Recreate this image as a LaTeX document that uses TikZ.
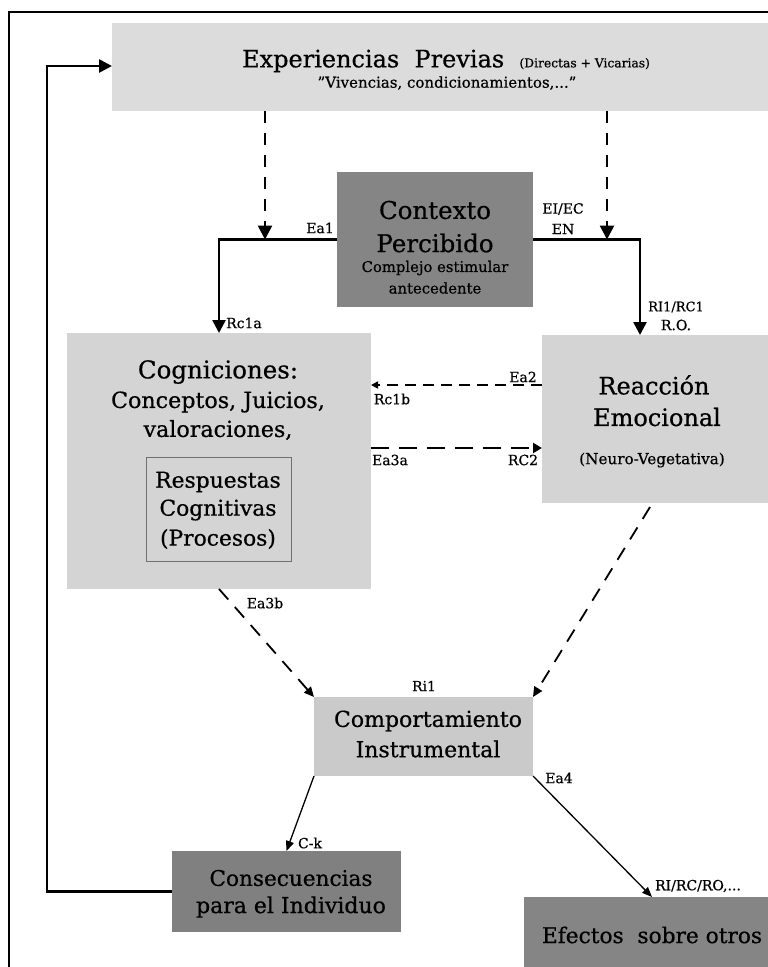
\documentclass[tikz,border=0pt]{standalone}
\usepackage{fontspec}
\setmainfont{DejaVu Serif}[FakeBold=0.6]
\usetikzlibrary{arrows.meta,calc}
\definecolor{cExp}{HTML}{DCDCDC}
\definecolor{cCtx}{HTML}{858585}
\definecolor{cCog}{HTML}{D4D4D4}
\definecolor{cComp}{HTML}{CACACA}
\definecolor{cDark}{HTML}{808080}
\definecolor{cInner}{HTML}{707070}
\newcommand{\fs}[1]{\fontsize{#1}{#1}\selectfont}
\tikzset{
  boxnode/.style={inner sep=0pt, outer sep=0pt, draw=none},
  txt/.style={inner sep=0pt, anchor=center, align=center},
  lbl/.style={inner sep=0pt, anchor=center, font=\fs{14}},
  thickarrow/.style={line width=2.6pt, -{Triangle[length=13pt,width=13pt]}},
  bigdash/.style={line width=2.6pt, dash pattern=on 12pt off 10pt, -{Triangle[length=14pt,width=14pt]}},
  middash/.style={line width=2.2pt, dash pattern=on 18pt off 10pt, -{Triangle[length=9pt,width=10pt]}},
  smalldash/.style={line width=1.6pt, dash pattern=on 11pt off 7pt, -{Triangle[length=7pt,width=7pt]}},
  diagdash/.style={line width=1.8pt, dash pattern=on 14pt off 10pt, -{Triangle[length=10pt,width=9pt]}},
  thinarrow/.style={line width=1.3pt, -{Triangle[length=10pt,width=8pt]}},
}
\begin{document}
\begin{tikzpicture}[x=1pt,y=-1pt]
\useasboundingbox (0,0) rectangle (768,967);
\clip (0,0) rectangle (768,967);
\fill[white] (0,0) rectangle (768,967);
% frame
\draw[line width=1.6pt] (9,990) -- (9,12) -- (790,12);

% boxes
\node[boxnode, fill=cExp, minimum width=658pt, minimum height=88pt] (exp) at (441,67) {};
\node[boxnode, fill=cCtx, minimum width=196pt, minimum height=135pt] (ctx) at (435,239.5) {};
\node[boxnode, fill=cCog, minimum width=304pt, minimum height=256pt] (cog) at (219,461) {};
\node[boxnode, draw=cInner, line width=0.8pt, minimum width=145pt, minimum height=104pt] (inner) at (218.5,509) {};
\node[boxnode, fill=cCog, minimum width=236pt, minimum height=168pt] (rea) at (660,419) {};
\node[boxnode, fill=cComp, minimum width=219pt, minimum height=79pt] (comp) at (423.5,736.5) {};
\node[boxnode, fill=cDark, minimum width=229pt, minimum height=81pt] (cons) at (286.5,891.5) {};
\node[boxnode, fill=cCtx, minimum width=256pt, minimum height=84pt] (efe) at (652,939) {};

% texts
\node[txt] (t1) at (446,61) {\fs{24}Experiencias\ \ Previas\ \ \fs{12.3}(Directas + Vicarias)};
\node[txt, font=\fs{15}] (t2) at (447,83) {\symbol{34}Vivencias, condicionamientos,...\symbol{34}};
\node[txt, font=\fs{24.5}] (c1) at (435,210) {Contexto};
\node[txt, font=\fs{24.5}] (c2) at (435,243) {Percibido};
\node[txt, font=\fs{14.8}] (c3) at (435,268) {Complejo estimular};
\node[txt, font=\fs{14.8}] (c4) at (435,288) {antecedente};
\node[txt, font=\fs{24.5}] (g1) at (218,372) {Cogniciones:};
\node[txt, font=\fs{22.2}] (g2) at (218,402) {Conceptos, Juicios,};
\node[txt, font=\fs{22.2}] (g3) at (218,430) {valoraciones,};
\node[txt, font=\fs{21.8}] (r1) at (218,482) {Respuestas};
\node[txt, font=\fs{21.8}] (r2) at (218,510) {Cognitivas};
\node[txt, font=\fs{21.8}] (r3) at (218,539) {(Procesos)};
\node[txt, font=\fs{24}] (e1) at (654,385) {Reacción};
\node[txt, font=\fs{24}] (e2) at (657,417) {Emocional};
\node[txt, font=\fs{15.2}] (e3) at (652,460) {(Neuro-Vegetativa)};
\node[txt, font=\fs{22}] (m1) at (428,721) {Comportamiento};
\node[txt, font=\fs{22}] (m2) at (428,749) {Instrumental};
\node[txt, font=\fs{21.6}] (n1) at (291,878) {Consecuencias};
\node[txt, font=\fs{22}] (n2) at (291,907) {para el Individuo};
\node[txt, font=\fs{21.7}] (f1) at (652,935) {Efectos\ \ sobre otros};

% labels
\node[lbl] (lEa1) at (320,228) {Ea1};
\node[lbl] (lEI) at (563,209) {EI/EC};
\node[lbl] (lEN) at (563,229) {EN};
\node[lbl, font=\fs{13}] (lRI1) at (676,307) {RI1/RC1};
\node[lbl] (lRO) at (676,325) {R.O.};
\node[lbl] (lRc1a) at (244,323) {Rc1a};
\node[lbl] (lEa2) at (523,377) {Ea2};
\node[lbl] (lRc1b) at (392,399) {Rc1b};
\node[lbl] (lEa3a) at (390,460) {Ea3a};
\node[lbl] (lRC2) at (523,460) {RC2};
\node[lbl] (lEa3b) at (265,603) {Ea3b};
\node[lbl] (lRi1) at (424,686) {Ri1};
\node[lbl] (lCk) at (310,843) {C-k};
\node[lbl] (lEa4) at (559,778) {Ea4};
\node[lbl] (lRIRC) at (698,886) {RI/RC/RO,...};

% coordinates
\coordinate (jl) at (219,239.5);
\coordinate (jr) at (640,239.5);
\coordinate (dl) at (265,239.5);
\coordinate (dr) at (607,239.5);
\coordinate (y2) at (0,385);
\coordinate (y3) at (0,448);
\coordinate (rs) at (650,507);
\coordinate (fb1) at (47,891.5);
\coordinate (fb2) at (47,66);

% connectors
\draw[bigdash] (exp.south -| dl) -- (dl);
\draw[bigdash] (exp.south -| dr) -- (dr);
\draw[thickarrow] (ctx.west) -- (jl) -- (jl |- cog.north);
\draw[thickarrow] (ctx.east) -- (jr) -- (jr |- rea.north);
\draw[smalldash] (rea.west |- y2) -- (cog.east |- y2);
\draw[middash] (cog.east |- y3) -- (rea.west |- y3);
\draw[diagdash] (cog.south) -- (comp.north west);
\draw[diagdash] (rs) -- (comp.north east);
\draw[thinarrow] (comp.south west) -- (cons.north);
\draw[thinarrow] (comp.south east) -- (efe.north);
\draw[line width=2.6pt, -{Triangle[length=13pt,width=13pt]}] (cons.west) -- (fb1) -- (fb2) -- (exp.west |- fb2);
\end{tikzpicture}
\end{document}
